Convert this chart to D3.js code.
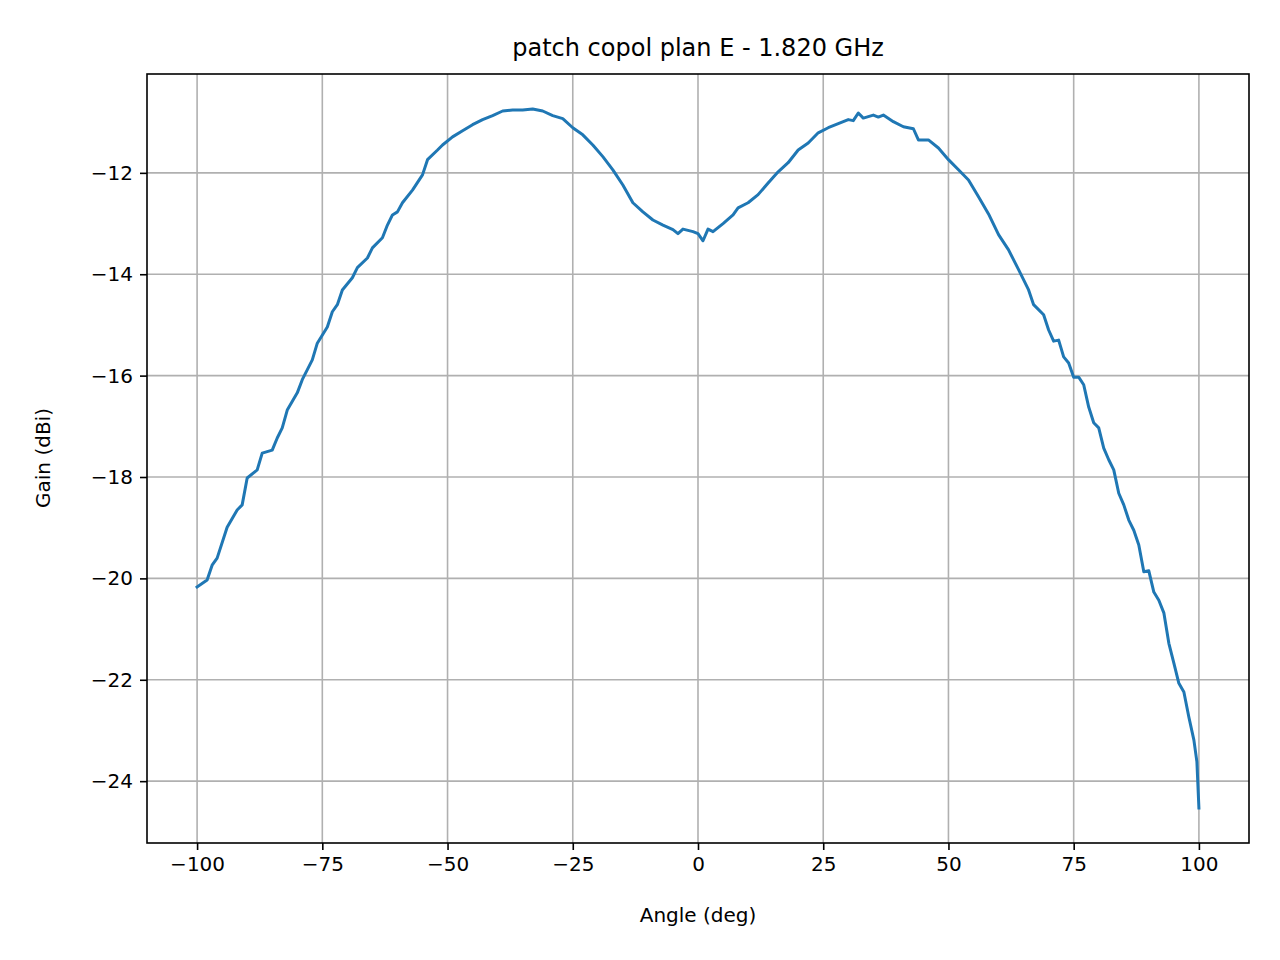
<!DOCTYPE html>
<html>
<head>
<meta charset="utf-8">
<script src="https://cdn.jsdelivr.net/npm/d3@7"></script>
<style>
  body { margin: 0; background: #fff; }
  text { font-family: "DejaVu Sans", sans-serif; }
</style>
</head>
<body>
<div id="chart"></div>
<script>
const angles = [-100, -98, -97, -96, -94, -92, -91, -90, -88, -87, -85, -84, -83, -82, -80, -79, -77, -76, -74, -73, -72, -71, -69, -68, -66, -65, -63, -62, -61, -60, -59, -57, -55, -54, -52, -51, -49, -47, -45, -43, -41, -39, -37, -35, -33, -31, -29, -27, -25, -23, -21, -19, -17, -15, -13, -11, -9, -7, -5, -4, -3, -1, 0, 1, 2, 3, 5, 7, 8, 10, 12, 14, 16, 18, 20, 22, 24, 26, 28, 30, 31, 32, 33, 35, 36, 37, 39, 41, 43, 44, 46, 48, 50, 52, 54, 56, 58, 60, 62, 64, 66, 67, 69, 70, 71, 72, 73, 74, 75, 76, 77, 78, 79, 80, 81, 82, 83, 84, 85, 86, 87, 88, 89, 90, 91, 92, 93, 94, 95, 96, 97, 98, 99, 99.6, 100];
const gains = [-20.17, -20.03, -19.74, -19.6, -18.99, -18.65, -18.55, -18.02, -17.86, -17.53, -17.47, -17.23, -17.03, -16.68, -16.34, -16.08, -15.69, -15.36, -15.04, -14.74, -14.6, -14.31, -14.07, -13.87, -13.68, -13.48, -13.28, -13.03, -12.83, -12.77, -12.59, -12.34, -12.04, -11.74, -11.55, -11.45, -11.29, -11.17, -11.05, -10.95, -10.87, -10.78, -10.76, -10.76, -10.74, -10.78, -10.87, -10.93, -11.11, -11.25, -11.45, -11.68, -11.94, -12.24, -12.59, -12.77, -12.93, -13.03, -13.12, -13.2, -13.11, -13.16, -13.2, -13.34, -13.11, -13.16, -13.0, -12.83, -12.69, -12.59, -12.43, -12.2, -11.98, -11.8, -11.55, -11.41, -11.21, -11.11, -11.03, -10.95, -10.97, -10.82, -10.92, -10.86, -10.9, -10.86, -10.99, -11.09, -11.13, -11.35, -11.35, -11.51, -11.74, -11.94, -12.14, -12.47, -12.81, -13.22, -13.52, -13.91, -14.31, -14.6, -14.8, -15.1, -15.32, -15.3, -15.63, -15.75, -16.03, -16.03, -16.18, -16.62, -16.93, -17.03, -17.43, -17.66, -17.86, -18.32, -18.55, -18.85, -19.05, -19.34, -19.87, -19.85, -20.27, -20.43, -20.68, -21.28, -21.67, -22.07, -22.24, -22.74, -23.19, -23.62, -24.53];
const xTicks = [-100, -75, -50, -25, 0, 25, 50, 75, 100];
const yTicks = [-24, -22, -20, -18, -16, -14, -12];

const W = 1280, H = 960;
const mLeft = 147, mRight = 1249, mTop = 74, mBottom = 843;

const svg = d3.select('#chart').append('svg')
  .attr('width', W).attr('height', H);

const x = d3.scaleLinear().domain([-110, 110]).range([mLeft, mRight]);
const y = d3.scaleLinear().domain([-25.22, -10.05]).range([mBottom, mTop]);

// grid
svg.append('g').selectAll('line').data(xTicks).enter().append('line')
  .attr('x1', d => x(d)).attr('x2', d => x(d))
  .attr('y1', mTop).attr('y2', mBottom)
  .attr('stroke', '#b0b0b0').attr('stroke-width', 1.6);
svg.append('g').selectAll('line').data(yTicks).enter().append('line')
  .attr('y1', d => y(d)).attr('y2', d => y(d))
  .attr('x1', mLeft).attr('x2', mRight)
  .attr('stroke', '#b0b0b0').attr('stroke-width', 1.6);

const fmt = d => d < 0 ? '\u2212' + Math.abs(d) : String(d);

const xAxis = svg.append('g').attr('transform', `translate(0,${mBottom})`)
  .call(d3.axisBottom(x).tickValues(xTicks).tickFormat(fmt).tickSize(7).tickPadding(7));
const yAxis = svg.append('g').attr('transform', `translate(${mLeft},0)`)
  .call(d3.axisLeft(y).tickValues(yTicks).tickFormat(fmt).tickSize(7).tickPadding(7));
[xAxis, yAxis].forEach(a => {
  a.select('.domain').remove();
  a.selectAll('line').attr('stroke', '#000').attr('stroke-width', 1.6);
  a.selectAll('text').attr('font-size', 20).attr('fill', '#000')
    .style('font-family', '"DejaVu Sans", sans-serif');
});

// line
const data = angles.map((a, i) => [a, gains[i]]);
svg.append('path').datum(data)
  .attr('fill', 'none').attr('stroke', '#1f77b4').attr('stroke-width', 3)
  .attr('stroke-linejoin', 'round').attr('stroke-linecap', 'square')
  .attr('d', d3.line().x(d => x(d[0])).y(d => y(d[1])));

// frame
svg.append('rect').attr('x', mLeft).attr('y', mTop)
  .attr('width', mRight - mLeft).attr('height', mBottom - mTop)
  .attr('fill', 'none').attr('stroke', '#000').attr('stroke-width', 1.6);

svg.append('text').attr('x', (mLeft + mRight) / 2).attr('y', 56)
  .attr('text-anchor', 'middle').attr('font-size', 24)
  .text('patch copol plan E - 1.820 GHz');
svg.append('text').attr('x', (mLeft + mRight) / 2).attr('y', 922)
  .attr('text-anchor', 'middle').attr('font-size', 20)
  .text('Angle (deg)');
svg.append('text').attr('transform', 'translate(50,458) rotate(-90)')
  .attr('text-anchor', 'middle').attr('font-size', 20)
  .text('Gain (dBi)');
</script>
</body>
</html>
